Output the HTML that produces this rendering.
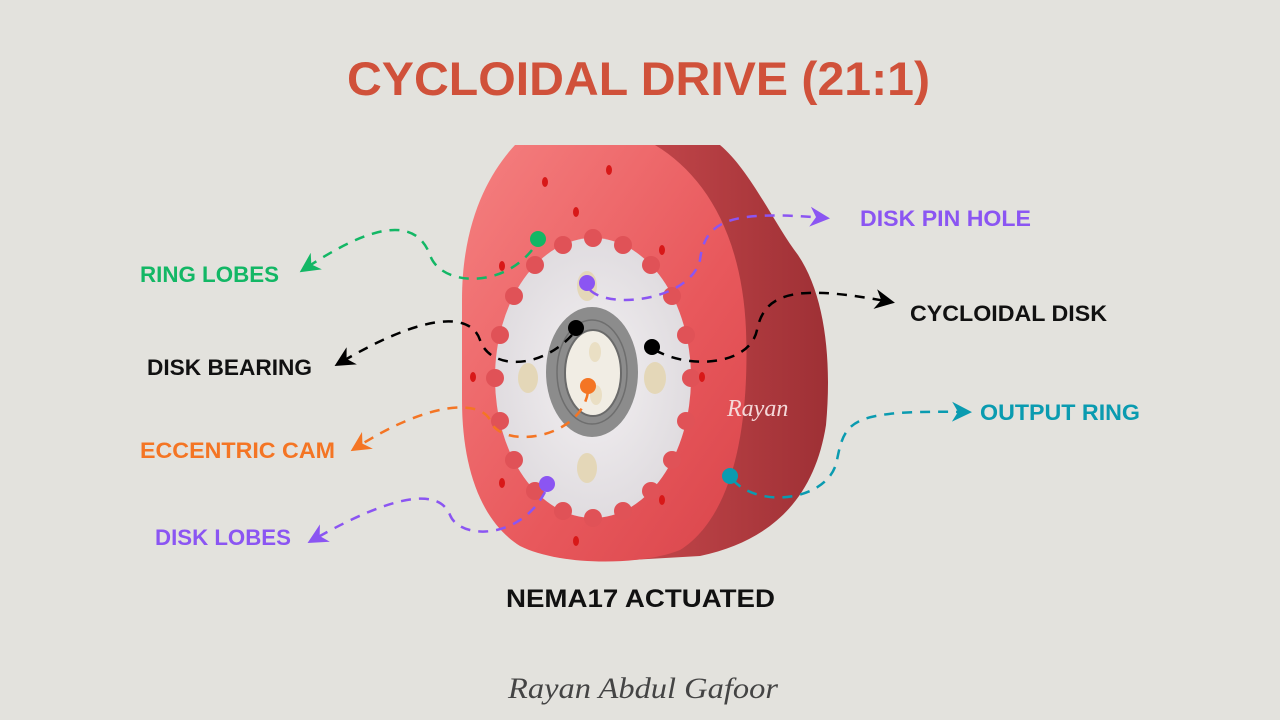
<!DOCTYPE html>
<html><head><meta charset="utf-8"><style>
html,body{margin:0;padding:0;background:#e3e2dd;}
svg{display:block}
.l{font-family:"Liberation Sans",sans-serif;font-weight:bold;font-size:22px}
</style></head><body>
<svg width="1280" height="720" viewBox="0 0 1280 720" xmlns="http://www.w3.org/2000/svg">
<defs>
<linearGradient id="fr" x1="0" y1="0" x2="1" y2="1">
<stop offset="0" stop-color="#f58080"/><stop offset="0.6" stop-color="#e8585c"/><stop offset="1" stop-color="#d9454b"/>
</linearGradient>
<linearGradient id="sd" x1="0" y1="0" x2="1" y2="0">
<stop offset="0" stop-color="#c4474b"/><stop offset="1" stop-color="#9e3035"/>
</linearGradient>
<radialGradient id="wd" cx="0.5" cy="0.5" r="0.6">
<stop offset="0" stop-color="#f3f0f2"/><stop offset="1" stop-color="#dcd8dc"/>
</radialGradient>
<marker id="ag" viewBox="0 0 10 10" refX="8" refY="5" markerWidth="8" markerHeight="8" markerUnits="userSpaceOnUse" orient="auto"><path d="M0,0 L10,5 L0,10 L3,5z" fill="#13b765"/></marker>
<marker id="ap" viewBox="0 0 10 10" refX="8" refY="5" markerWidth="20" markerHeight="20" markerUnits="userSpaceOnUse" orient="auto"><path d="M0,0 L10,5 L0,10 L3,5z" fill="#8b55f2"/></marker>
<marker id="ab" viewBox="0 0 10 10" refX="8" refY="5" markerWidth="20" markerHeight="20" markerUnits="userSpaceOnUse" orient="auto"><path d="M0,0 L10,5 L0,10 L3,5z" fill="#000"/></marker>
<marker id="ao" viewBox="0 0 10 10" refX="8" refY="5" markerWidth="20" markerHeight="20" markerUnits="userSpaceOnUse" orient="auto"><path d="M0,0 L10,5 L0,10 L3,5z" fill="#f47524"/></marker>
<marker id="at" viewBox="0 0 10 10" refX="8" refY="5" markerWidth="20" markerHeight="20" markerUnits="userSpaceOnUse" orient="auto"><path d="M0,0 L10,5 L0,10 L3,5z" fill="#0a9bb0"/></marker>
<marker id="ag2" viewBox="0 0 10 10" refX="8" refY="5" markerWidth="20" markerHeight="20" markerUnits="userSpaceOnUse" orient="auto"><path d="M0,0 L10,5 L0,10 L3,5z" fill="#13b765"/></marker>
</defs>

<text x="347" y="95" textLength="583" lengthAdjust="spacingAndGlyphs" font-family="Liberation Sans,sans-serif" font-weight="bold" font-size="47" fill="#d0513a">CYCLOIDAL DRIVE (21:1)</text>

<path d="M630,145 L720,145 C750,170 775,225 798,255 C825,295 832,360 826,425 C815,495 775,540 700,556 L630,560 Z" fill="url(#sd)"/>
<path d="M515,145 L655,145 C705,175 742,235 746,330 C750,440 728,520 680,550 C640,566 560,566 520,546 C482,522 462,470 462,400 L462,300 C462,220 490,172 515,145 Z" fill="url(#fr)"/>
<ellipse cx="593" cy="378" rx="98" ry="140" fill="url(#wd)"/>
<g fill="#e05257">
<circle cx="691" cy="378" r="9"/><circle cx="686" cy="421" r="9"/><circle cx="672" cy="460" r="9"/><circle cx="651" cy="491" r="9"/><circle cx="623" cy="511" r="9"/><circle cx="593" cy="518" r="9"/><circle cx="563" cy="511" r="9"/><circle cx="535" cy="491" r="9"/><circle cx="514" cy="460" r="9"/><circle cx="500" cy="421" r="9"/><circle cx="495" cy="378" r="9"/><circle cx="500" cy="335" r="9"/><circle cx="514" cy="296" r="9"/><circle cx="535" cy="265" r="9"/><circle cx="563" cy="245" r="9"/><circle cx="593" cy="238" r="9"/><circle cx="623" cy="245" r="9"/><circle cx="651" cy="265" r="9"/><circle cx="672" cy="296" r="9"/><circle cx="686" cy="335" r="9"/>
</g>
<g fill="#e4d7b8">
<ellipse cx="587" cy="286" rx="10" ry="15"/><ellipse cx="528" cy="378" rx="10" ry="15"/><ellipse cx="655" cy="378" rx="11" ry="16"/><ellipse cx="587" cy="468" rx="10" ry="15"/>
</g>
<g fill="#d81818">
<ellipse cx="545" cy="182" rx="3" ry="5"/><ellipse cx="609" cy="170" rx="3" ry="5"/><ellipse cx="576" cy="212" rx="3" ry="5"/><ellipse cx="662" cy="250" rx="3" ry="5"/><ellipse cx="502" cy="266" rx="3" ry="5"/><ellipse cx="473" cy="377" rx="3" ry="5"/><ellipse cx="702" cy="377" rx="3" ry="5"/><ellipse cx="502" cy="483" rx="3" ry="5"/><ellipse cx="662" cy="500" rx="3" ry="5"/><ellipse cx="576" cy="541" rx="3" ry="5"/>
</g>
<ellipse cx="592" cy="372" rx="46" ry="65" fill="#8c8c8c"/>
<ellipse cx="592" cy="372" rx="35" ry="52" fill="none" stroke="#6e6e6e" stroke-width="1.5"/>
<ellipse cx="593" cy="373" rx="28" ry="43" fill="#f1ede4" stroke="#6a6a6a" stroke-width="2"/>
<ellipse cx="595" cy="352" rx="6" ry="10" fill="#eadfc4"/><ellipse cx="596" cy="395" rx="6" ry="10" fill="#eadfc4"/>
<text x="727" y="416" font-family="Liberation Serif,serif" font-style="italic" font-size="24" fill="#f4d8d8">Rayan</text>

<g fill="none" stroke-width="2.5" stroke-dasharray="10,8">
<path d="M532,250 C500,290 440,285 430,255 C415,215 370,225 303,270" stroke="#13b765" marker-end="url(#ag2)"/>
<path d="M590,290 C610,310 690,300 700,260 C705,220 730,210 826,218" stroke="#8b55f2" marker-end="url(#ap)"/>
<path d="M655,350 C690,370 750,365 757,330 C765,290 800,285 891,302" stroke="#000" marker-end="url(#ab)"/>
<path d="M572,335 C540,370 490,370 480,340 C470,310 420,315 338,364" stroke="#000" marker-end="url(#ab)"/>
<path d="M588,392 C580,440 500,450 490,420 C480,400 430,400 354,449" stroke="#f47524" marker-end="url(#ao)"/>
<path d="M545,492 C520,540 460,540 450,515 C440,490 400,490 311,541" stroke="#8b55f2" marker-end="url(#ap)"/>
<path d="M733,480 C760,510 830,500 837,460 C845,420 850,410 968,412" stroke="#0a9bb0" marker-end="url(#at)"/>
</g>
<circle cx="538" cy="239" r="8" fill="#13b765"/>
<circle cx="587" cy="283" r="8" fill="#8b55f2"/>
<circle cx="652" cy="347" r="8" fill="#000"/>
<circle cx="576" cy="328" r="8" fill="#000"/>
<circle cx="588" cy="386" r="8" fill="#f47524"/>
<circle cx="547" cy="484" r="8" fill="#8b55f2"/>
<circle cx="730" cy="476" r="8" fill="#0a9bb0"/>

<text class="l" x="140" y="282" textLength="139" lengthAdjust="spacingAndGlyphs" fill="#13b765">RING LOBES</text>
<text class="l" x="147" y="375" textLength="165" lengthAdjust="spacingAndGlyphs" fill="#111">DISK BEARING</text>
<text class="l" x="140" y="458" textLength="195" lengthAdjust="spacingAndGlyphs" fill="#f47524">ECCENTRIC CAM</text>
<text class="l" x="155" y="545" textLength="136" lengthAdjust="spacingAndGlyphs" fill="#8b55f2">DISK LOBES</text>
<text class="l" x="860" y="226" textLength="171" lengthAdjust="spacingAndGlyphs" fill="#8b55f2">DISK PIN HOLE</text>
<text class="l" x="910" y="321" textLength="197" lengthAdjust="spacingAndGlyphs" fill="#111">CYCLOIDAL DISK</text>
<text class="l" x="980" y="420" textLength="160" lengthAdjust="spacingAndGlyphs" fill="#0a9bb0">OUTPUT RING</text>
<text x="506" y="607" textLength="269" lengthAdjust="spacingAndGlyphs" font-family="Liberation Sans,sans-serif" font-weight="bold" font-size="25" fill="#111">NEMA17 ACTUATED</text>
<text x="508" y="698" textLength="270" lengthAdjust="spacingAndGlyphs" font-family="Liberation Serif,serif" font-style="italic" font-size="30" fill="#444">Rayan Abdul Gafoor</text>
</svg>
</body></html>
